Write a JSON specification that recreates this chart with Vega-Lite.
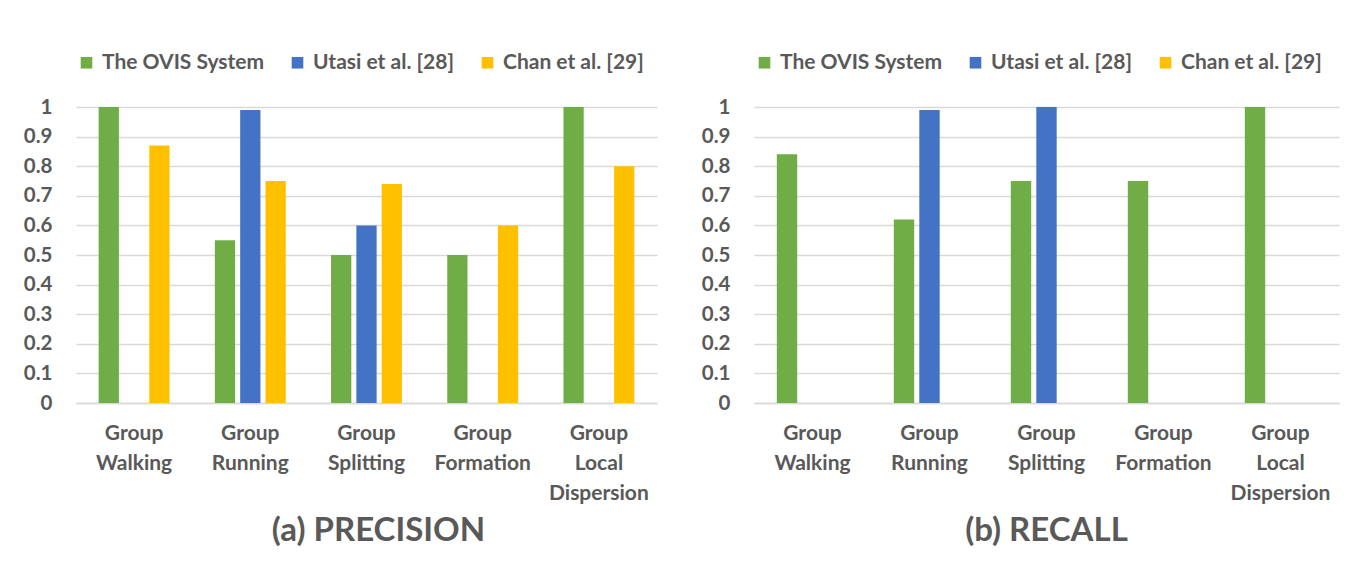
{
  "$schema": "https://vega.github.io/schema/vega-lite/v6.json",
  "background": "white",
  "padding": {"left": 23, "top": 52, "right": 10, "bottom": 5},
  "datasets": {
    "precision": [
      {"activity": "Group Walking", "method": "The OVIS System", "value": 1.0},
      {"activity": "Group Walking", "method": "Chan et al. [29]", "value": 0.87},
      {"activity": "Group Running", "method": "The OVIS System", "value": 0.55},
      {"activity": "Group Running", "method": "Utasi et al. [28]", "value": 0.99},
      {"activity": "Group Running", "method": "Chan et al. [29]", "value": 0.75},
      {"activity": "Group Splitting", "method": "The OVIS System", "value": 0.5},
      {"activity": "Group Splitting", "method": "Utasi et al. [28]", "value": 0.6},
      {"activity": "Group Splitting", "method": "Chan et al. [29]", "value": 0.74},
      {"activity": "Group Formation", "method": "The OVIS System", "value": 0.5},
      {"activity": "Group Formation", "method": "Chan et al. [29]", "value": 0.6},
      {"activity": "Group Local Dispersion", "method": "The OVIS System", "value": 1.0},
      {"activity": "Group Local Dispersion", "method": "Chan et al. [29]", "value": 0.8}
    ],
    "recall": [
      {"activity": "Group Walking", "method": "The OVIS System", "value": 0.84},
      {"activity": "Group Running", "method": "The OVIS System", "value": 0.62},
      {"activity": "Group Running", "method": "Utasi et al. [28]", "value": 0.99},
      {"activity": "Group Splitting", "method": "The OVIS System", "value": 0.75},
      {"activity": "Group Splitting", "method": "Utasi et al. [28]", "value": 1.0},
      {"activity": "Group Formation", "method": "The OVIS System", "value": 0.75},
      {"activity": "Group Local Dispersion", "method": "The OVIS System", "value": 1.0}
    ]
  },
  "config": {
    "font": "Lato",
    "view": {"stroke": null},
    "axis": {
      "labelFont": "Lato",
      "labelFontWeight": "bold",
      "labelColor": "#595959",
      "ticks": false,
      "title": null
    },
    "axisX": {
      "labelFontSize": 21,
      "labelLineHeight": 30,
      "labelPadding": 19,
      "labelAngle": 0,
      "domainColor": "#D9D9D9",
      "domainWidth": 1.5,
      "grid": false
    },
    "axisY": {
      "labelFontSize": 20.5,
      "labelPadding": 24,
      "domain": false,
      "gridColor": "#D9D9D9",
      "gridWidth": 1.5
    },
    "legend": {
      "orient": "top",
      "direction": "horizontal",
      "title": null,
      "labelFont": "Lato",
      "labelFontWeight": "bold",
      "labelFontSize": 21,
      "labelColor": "#595959",
      "symbolType": "square",
      "symbolSize": 135,
      "symbolStrokeWidth": 0,
      "columnPadding": 22,
      "labelOffset": 5,
      "offset": 34,
      "labelLimit": 300
    },
    "title": {
      "font": "Lato",
      "fontWeight": "bold",
      "fontSize": 33,
      "color": "#595959",
      "orient": "bottom",
      "offset": 12
    }
  },
  "bounds": "flush",
  "spacing": 97,
  "resolve": {
    "scale": {"color": "independent", "x": "independent", "y": "independent", "xOffset": "independent"},
    "legend": {"color": "independent"}
  },
  "hconcat": [
    {
      "data": {"name": "precision"},
      "title": {"text": "(a) PRECISION", "dx": 12},
      "width": 581,
      "height": 296,
      "mark": {"type": "bar"},
      "encoding": {
        "x": {
          "field": "activity",
          "type": "nominal",
          "sort": ["Group Walking", "Group Running", "Group Splitting", "Group Formation", "Group Local Dispersion"],
          "scale": {"paddingInner": 0.39, "paddingOuter": 0.195},
          "axis": {"labelExpr": "split(datum.label, ' ')"}
        },
        "xOffset": {
          "field": "method",
          "type": "nominal",
          "scale": {"domain": ["The OVIS System", "Utasi et al. [28]", "Chan et al. [29]"], "paddingInner": 0.2, "paddingOuter": 0}
        },
        "y": {
          "field": "value",
          "type": "quantitative",
          "scale": {"domain": [0, 1], "nice": false},
          "axis": {"values": [0, 0.1, 0.2, 0.3, 0.4, 0.5, 0.6, 0.7, 0.8, 0.9, 1], "format": "~g"}
        },
        "color": {
          "field": "method",
          "type": "nominal",
          "scale": {"domain": ["The OVIS System", "Utasi et al. [28]", "Chan et al. [29]"], "range": ["#70AD47", "#4472C4", "#FFC000"]}
        }
      }
    },
    {
      "data": {"name": "recall"},
      "title": {"text": "(b) RECALL"},
      "width": 585,
      "height": 296,
      "mark": {"type": "bar"},
      "encoding": {
        "x": {
          "field": "activity",
          "type": "nominal",
          "sort": ["Group Walking", "Group Running", "Group Splitting", "Group Formation", "Group Local Dispersion"],
          "scale": {"domain": ["Group Walking", "Group Running", "Group Splitting", "Group Formation", "Group Local Dispersion"], "paddingInner": 0.39, "paddingOuter": 0.195},
          "axis": {"labelExpr": "split(datum.label, ' ')"}
        },
        "xOffset": {
          "field": "method",
          "type": "nominal",
          "scale": {"domain": ["The OVIS System", "Utasi et al. [28]", "Chan et al. [29]"], "paddingInner": 0.2, "paddingOuter": 0}
        },
        "y": {
          "field": "value",
          "type": "quantitative",
          "scale": {"domain": [0, 1], "nice": false},
          "axis": {"values": [0, 0.1, 0.2, 0.3, 0.4, 0.5, 0.6, 0.7, 0.8, 0.9, 1], "format": "~g"}
        },
        "color": {
          "field": "method",
          "type": "nominal",
          "scale": {"domain": ["The OVIS System", "Utasi et al. [28]", "Chan et al. [29]"], "range": ["#70AD47", "#4472C4", "#FFC000"]}
        }
      }
    }
  ]
}
